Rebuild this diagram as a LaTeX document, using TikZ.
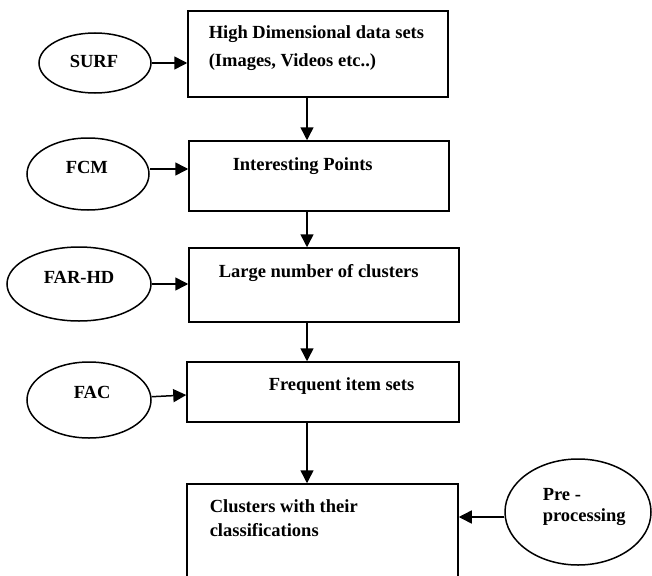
\documentclass[tikz,border=0pt]{standalone}
\usepackage{fontspec}
\setmainfont{Liberation Serif}
\usetikzlibrary{shapes.geometric,arrows.meta,calc}
\begin{document}
\begin{tikzpicture}[x=1pt,y=-1pt,
  line width=1.5pt,
  boxn/.style={draw,rectangle,inner sep=0pt},
  ell/.style={draw,ellipse,inner sep=0pt},
  lbl/.style={anchor=base west,inner sep=0pt,font=\fontsize{18.5}{22}\selectfont\bfseries},
  arr/.style={-{Triangle[length=13pt,width=13pt]}}]
\useasboundingbox (0,0) rectangle (652,575);
\clip (0,0) rectangle (652,575);
% boxes
\node[boxn,minimum width=260pt,minimum height=86pt] (b1) at (318,54) {};
\node[boxn,minimum width=260pt,minimum height=70pt] (b2) at (319,176) {};
\node[boxn,minimum width=270pt,minimum height=74pt] (b3) at (324,285) {};
\node[boxn,minimum width=272pt,minimum height=60pt] (b4) at (323,392) {};
\node[boxn,minimum width=271pt,minimum height=120pt] (b5) at (322.5,544) {};
% box texts
\node[lbl] (t1a) at (208,39) {High Dimensional data sets};
\node[lbl] (t1b) at (208,67) {(Images, Videos etc..)};
\node[lbl] (t2) at (232,170) {Interesting Points};
\node[lbl] (t3) at (218,277) {Large number of clusters};
\node[lbl] (t4) at (268,390) {Frequent item sets};
\node[lbl] (t5a) at (209,512) {Clusters with their};
\node[lbl] (t5b) at (209,536) {classifications};
% ellipses
\node[ell,minimum width=112pt,minimum height=60pt] (surf) at (95,63) {};
\node[ell,minimum width=122pt,minimum height=72pt] (fcm) at (88,174) {};
\node[ell,minimum width=144pt,minimum height=74pt] (farhd) at (79,284) {};
\node[ell,minimum width=124pt,minimum height=76pt] (fac) at (89,400) {};
\node[ell,minimum width=146pt,minimum height=106pt] (pre) at (578,512) {};
% ellipse texts
\node[lbl] (ts) at (69,68) {SURF};
\node[lbl] (tf) at (65,173) {FCM};
\node[lbl] (tfh) at (43,283) {FAR-HD};
\node[lbl] (tfa) at (73,398) {FAC};
\node[lbl] (tpa) at (542,500) {Pre -};
\node[lbl] (tpb) at (542,521) {processing};
% helper coordinates
\coordinate (vx) at (307,0);
\coordinate (fcmy) at (0,169);
\coordinate (facy) at (0,395);
\coordinate (prey) at (0,517);
% vertical arrows
\draw[arr] (b1.south -| vx) -- (b2.north -| vx);
\draw[arr] (b2.south -| vx) -- (b3.north -| vx);
\draw[arr] (b3.south -| vx) -- (b4.north -| vx);
\draw[arr] (b4.south -| vx) -- (b5.north -| vx);
% horizontal arrows
\draw[arr] (surf.east) -- (surf.east -| b1.west);
\draw[arr] (fcm.east |- fcmy) -- (b2.west |- fcmy);
\draw[arr] (farhd.east) -- (farhd.east -| b3.west);
\draw[arr] (fac.3) -- (b4.west |- facy);
\draw[arr] (pre.west |- prey) -- (b5.east |- prey);
\end{tikzpicture}
\end{document}
